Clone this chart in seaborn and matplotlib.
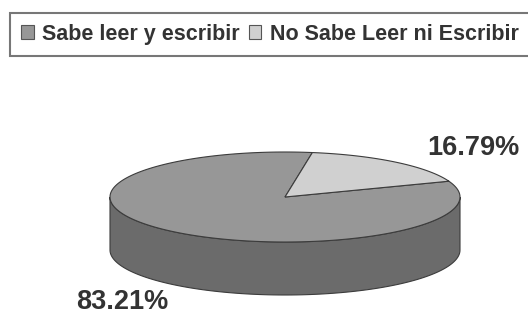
import numpy as np
import matplotlib
matplotlib.use("Agg")
import matplotlib.pyplot as plt
from matplotlib.patches import Polygon, Patch
import seaborn as sns

labels = ["Sabe leer y escribir", "No Sabe Leer ni Escribir"]
values = [83.21, 16.79]
pct_text = ["83.21%", "16.79%"]

top_colors = ["#979797", "#d0d0d0"]
side_colors = ["#6b6b6b", "#a8a8a8"]
EDGE = "#3c3c3c"

sns.set_style("white")
plt.rcParams["font.family"] = ["Liberation Sans", "DejaVu Sans"]

# pie geometry in pixel space
CX, CY, A, B, DEPTH = 285, 197, 175, 45, 53
START = 81.0


def ell(theta_deg, drop=0.0):
    t = np.radians(theta_deg)
    return np.column_stack([CX + A * np.cos(t), CY - B * np.sin(t) + drop])


fig = plt.figure(figsize=(5.28, 3.14), dpi=100)
ax = fig.add_axes([0, 0, 1, 1])
ax.set_xlim(0, 528)
ax.set_ylim(314, 0)
ax.axis("off")

fracs = np.array(values) / sum(values)
bounds = START + np.concatenate([[0], np.cumsum(fracs) * 360])

# sides (front half only: 180..360 and 540..720)
for i in range(len(values)):
    s, e = bounds[i], bounds[i + 1]
    for lo, hi in [(180, 360), (540, 720)]:
        a0, a1 = max(s, lo), min(e, hi)
        if a1 <= a0:
            continue
        th = np.linspace(a0, a1, 120)
        pts = np.vstack([ell(th), ell(th[::-1], DEPTH)])
        ax.add_patch(Polygon(pts, closed=True, facecolor=side_colors[i],
                             edgecolor=EDGE, lw=0.8, zorder=1))

# top faces
for i in range(len(values)):
    th = np.linspace(bounds[i], bounds[i + 1], 200)
    pts = np.vstack([[CX, CY], ell(th)])
    ax.add_patch(Polygon(pts, closed=True, facecolor=top_colors[i],
                         edgecolor=EDGE, lw=0.8, zorder=2))

# percentage labels
label_k = [1.47, 1.7]
label_dy = [DEPTH + 1, 10]
for i in range(len(values)):
    mid = np.radians((bounds[i] + bounds[i + 1]) / 2)
    x = CX + A * label_k[i] * np.cos(mid)
    y = CY - B * label_k[i] * np.sin(mid) + label_dy[i]
    ax.text(x, y, pct_text[i], ha="center", va="center", fontsize=19.5,
            fontweight="bold", color="#333333", zorder=3)

handles = [Patch(facecolor=top_colors[i], edgecolor="#555555", lw=0.8)
           for i in range(len(values))]
leg = ax.legend(handles, labels, ncol=2, loc="upper left",
                bbox_to_anchor=(10 / 528, 1 - 13 / 314),
                prop={"weight": "bold", "size": 15.5},
                handlelength=0.6, handleheight=0.6, handletextpad=0.4,
                columnspacing=0.4, borderpad=0.5, borderaxespad=0,
                frameon=True, fancybox=False, shadow=False)
leg.get_frame().set_edgecolor("#555555")
leg.get_frame().set_linewidth(1.5)
for t in leg.get_texts():
    t.set_color("#333333")

fig.savefig("out.png", dpi=100)
